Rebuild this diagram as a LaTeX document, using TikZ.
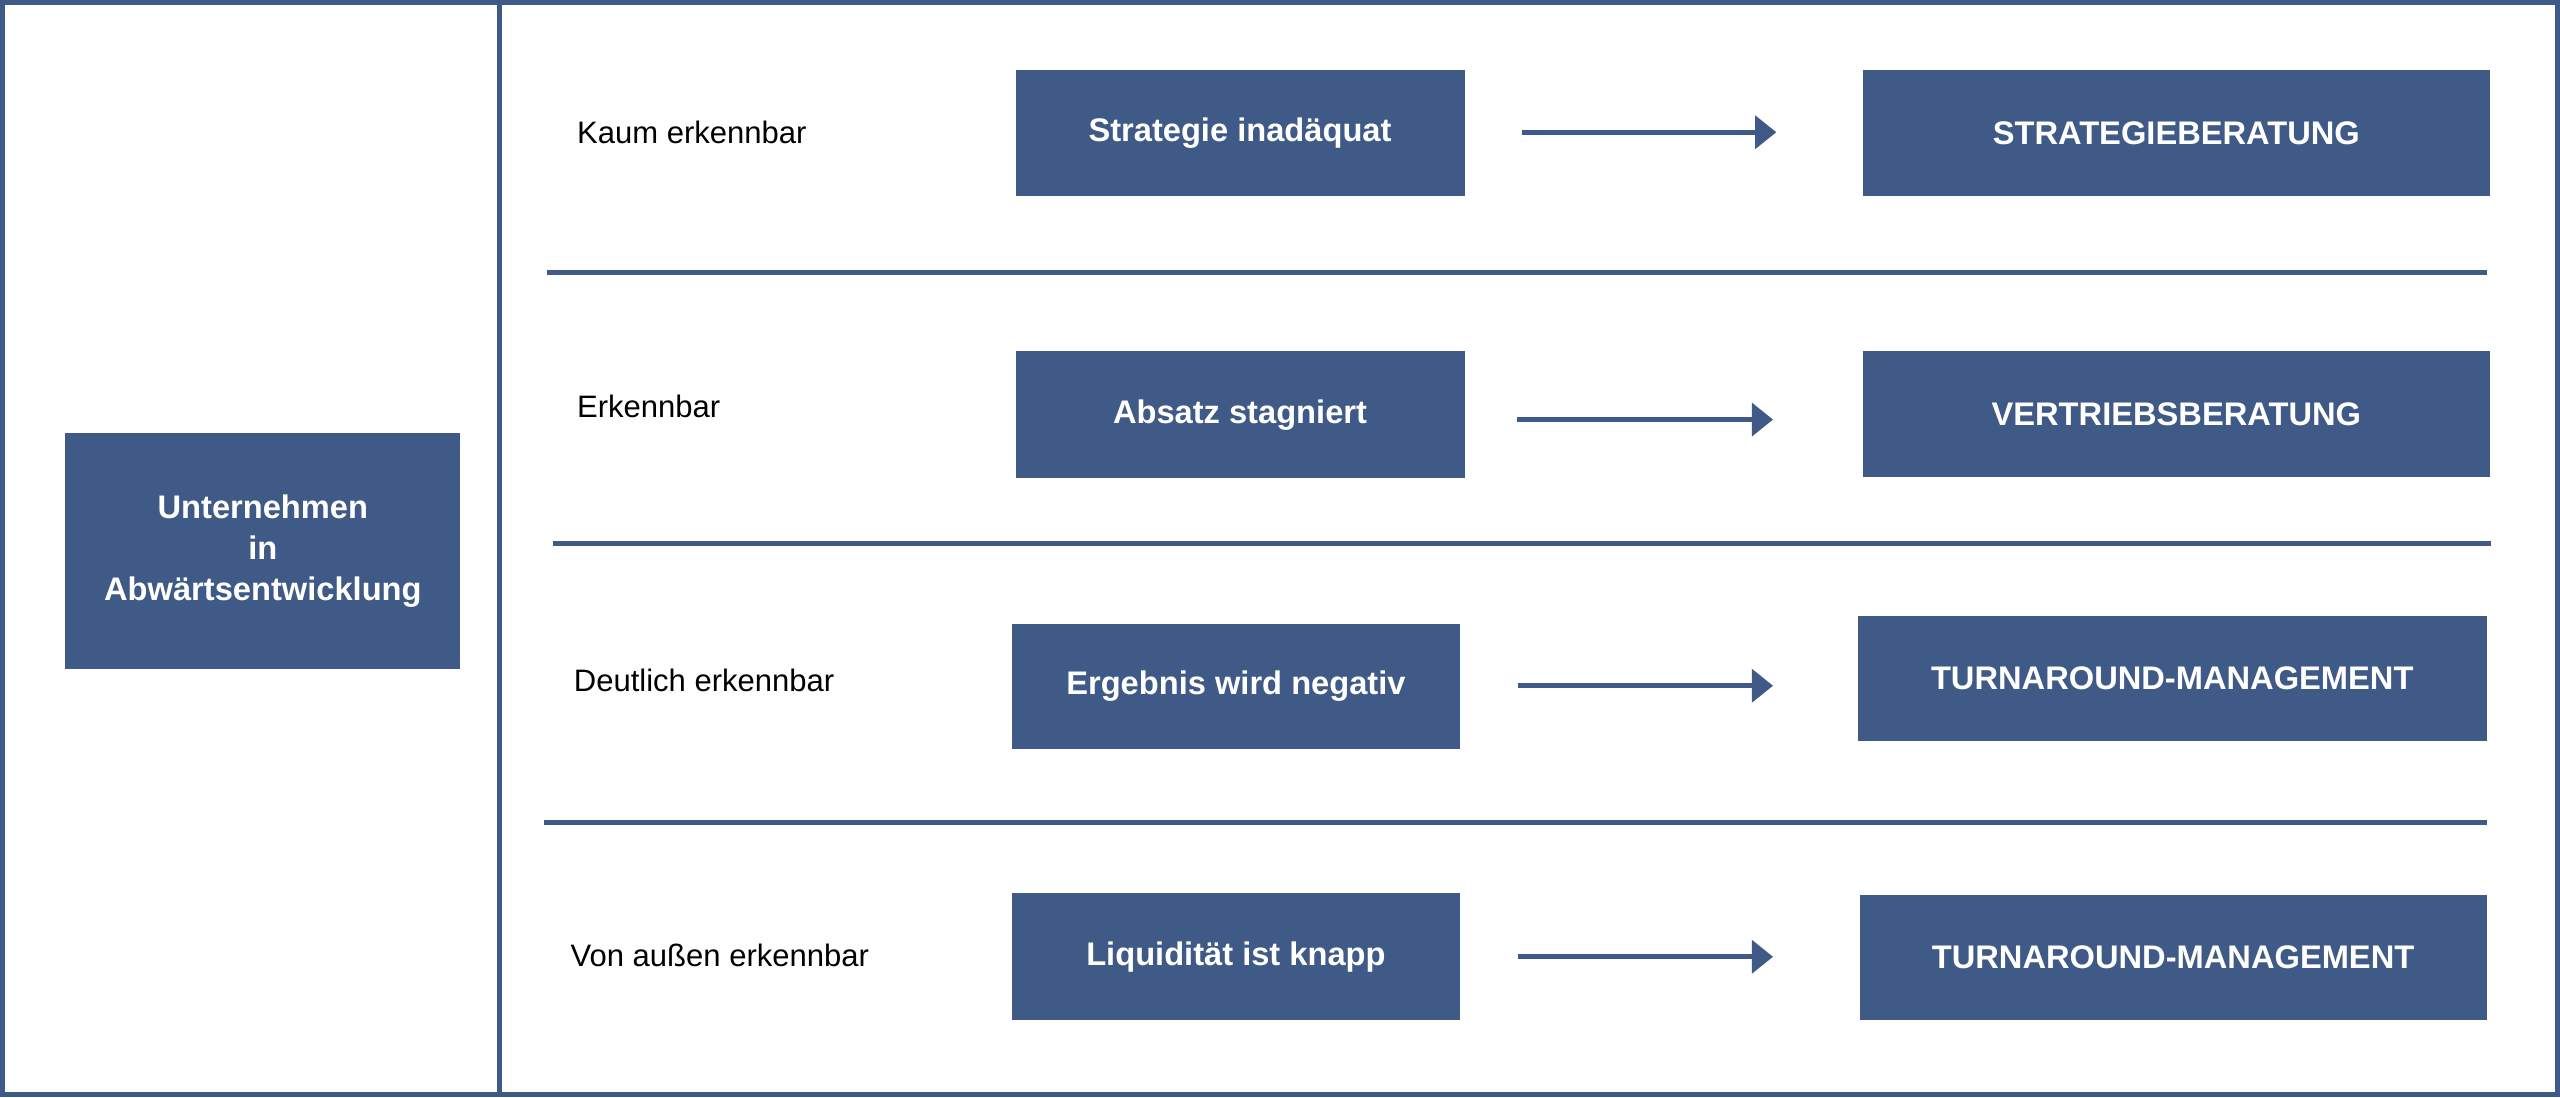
\documentclass[tikz,border=0pt]{standalone}
\usepackage{fontspec}
\setmainfont{Liberation Sans}
\usetikzlibrary{arrows.meta}
\definecolor{bx}{HTML}{3F5A87}
\begin{document}
\begin{tikzpicture}[x=1pt,y=-1pt,
  box/.style={fill=bx,text=white,font=\fontsize{20}{25}\selectfont\bfseries,align=center,inner sep=0},
  lbl/.style={anchor=west,font=\fontsize{19}{23}\selectfont},
  sep/.style={draw=bx,line width=3pt},
  arr/.style={draw=bx,line width=3pt,-{Triangle[length=13pt,width=20pt]}}]
\useasboundingbox (0,0) rectangle (1568,672);
\draw[bx,line width=3pt] (1.5,1.5) rectangle (1566.5,670.5);
\draw[bx,line width=3.5pt] (306,0) -- (306,672);
\node[box,minimum width=242,minimum height=145] (l) at (161,337.5) {Unternehmen\\in\\Abwärtsentwicklung};
\foreach \i/\lx/\ly/\lt/\ax/\ay/\aw/\ah/\at/\px/\pe/\py/\bx/\by/\bw/\bh/\bt in {
 1/350/81/Kaum erkennbar/759.5/81.5/275/77/Strategie inadäquat/932/1088/81/1333/81.5/384/77/STRATEGIEBERATUNG,
 2/350/249/Erkennbar/759.5/254/275/78/Absatz stagniert/929/1086/257/1333/253.5/384/77/VERTRIEBSBERATUNG,
 3/348/417/Deutlich erkennbar/757/420.5/274/77/Ergebnis wird negativ/930/1086/420/1330.5/415.5/385/77/TURNAROUND-MANAGEMENT,
 4/346/585/Von außen erkennbar/757/586/274/78/Liquidität ist knapp/930/1086/586/1331/586.5/384/77/TURNAROUND-MANAGEMENT}{
  \node[lbl] (t\i) at (\lx,\ly) {\lt};
  \node[box,minimum width=\aw,minimum height=\ah] (a\i) at (\ax,\ay) {\at};
  \node[box,minimum width=\bw,minimum height=\bh] (b\i) at (\bx,\by) {\bt};
  \coordinate (p\i) at (\px,\py); \coordinate (q\i) at (\pe,\py);
  \draw[arr] (p\i) -- (q\i);
}
\draw[sep] (335,167) -- (1523,167);
\draw[sep] (339,333) -- (1526,333);
\draw[sep] (333,504) -- (1523,504);
\end{tikzpicture}
\end{document}
